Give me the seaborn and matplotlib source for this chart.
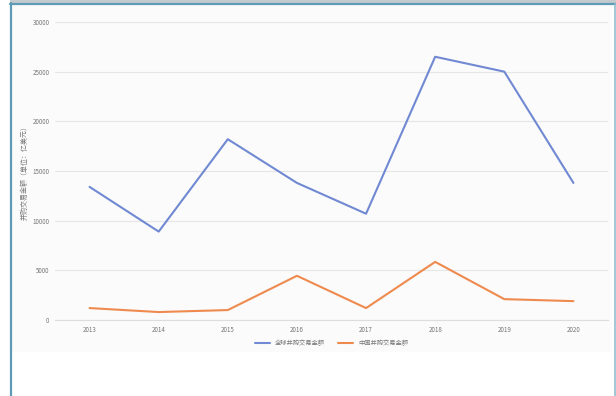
import matplotlib
matplotlib.use("Agg")
import matplotlib.pyplot as plt
import matplotlib.patches as mpatches
import matplotlib.lines as mlines
import seaborn as sns
import pandas as pd

years = ["2013", "2014", "2015", "2016", "2017", "2018", "2019", "2020"]
global_vals = [13400, 8900, 18200, 13800, 10700, 26500, 25000, 13800]
china_vals = [1200, 800, 1000, 4450, 1200, 5850, 2100, 1900]
series_names = ["全球并购交易金额", "中国并购交易金额"]
ylabel = "并购交易金额（单位：亿美元）"

df = pd.DataFrame({
    "year": years * 2,
    "value": global_vals + china_vals,
    "series": [series_names[0]] * len(years) + [series_names[1]] * len(years),
})

sns.set_theme(style="white")
plt.rcParams["font.family"] = ["Noto Sans CJK SC", "DejaVu Sans"]

W, H = 616, 396
fig = plt.figure(figsize=(W / 100, H / 100), dpi=100)
fig.patch.set_facecolor("white")

# light chart-area box
fig.add_artist(mpatches.Rectangle((11 / W, 1 - 352 / H), (612 - 11) / W, (352 - 5) / H,
                                  transform=fig.transFigure, facecolor="#fbfbfb",
                                  edgecolor="none", zorder=0))
# frame: gray band at top and teal borders
fig.add_artist(mpatches.Rectangle((10 / W, 1 - 3 / H), 1 - 10 / W, 3 / H, transform=fig.transFigure,
                                  facecolor="#c3cbce", edgecolor="none", zorder=1))
fig.add_artist(mlines.Line2D([10.5 / W, 10.5 / W], [0, 1 - 3 / H], transform=fig.transFigure,
                             color="#5e9bb6", lw=1.6, zorder=2))
fig.add_artist(mlines.Line2D([10 / W, 1], [1 - 4 / H, 1 - 4 / H], transform=fig.transFigure,
                             color="#5e9bb6", lw=1.6, zorder=2))
fig.add_artist(mlines.Line2D([614.5 / W, 614.5 / W], [0, 1 - 4 / H], transform=fig.transFigure,
                             color="#8fbfcf", lw=1.2, zorder=2))

ax = fig.add_axes([55 / W, 1 - 320 / H, (608 - 55) / W, (320 - 22) / H])
ax.set_facecolor("none")

sns.lineplot(data=df, x="year", y="value", hue="series",
             palette=["#7089d2", "#ee8a4e"], linewidth=1.5, ax=ax, sort=False)

ax.set_ylim(0, 30000)
ax.set_xlim(-0.5, len(years) - 0.5)
ax.set_yticks(range(0, 30001, 5000))
ax.yaxis.grid(True, color="#e6e6e6", linewidth=0.8)
ax.xaxis.grid(False)
for s in ["top", "right", "left"]:
    ax.spines[s].set_visible(False)
ax.spines["bottom"].set_color("#dddddd")
ax.spines["bottom"].set_linewidth(0.8)
ax.tick_params(axis="both", length=0, labelsize=4.5, labelcolor="#777777", pad=4)
ax.set_xlabel("")
ax.set_ylabel(ylabel, fontsize=5, color="#777777", labelpad=3)

leg = ax.legend(loc="upper center", bbox_to_anchor=(0.5, -0.045), ncol=2, frameon=False,
                fontsize=4.5, handlelength=2.5, columnspacing=2.0)
for t in leg.get_texts():
    t.set_color("#777777")

fig.savefig("out.png", dpi=100)
